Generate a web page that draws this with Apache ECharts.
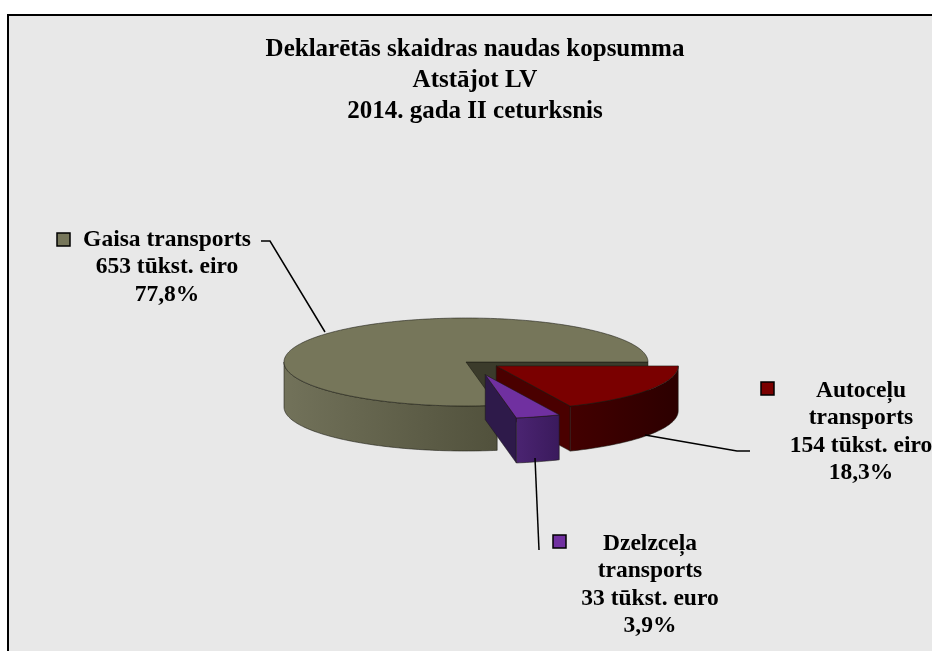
<!DOCTYPE html>
<html lang="lv">
<head>
<meta charset="UTF-8">
<title>Deklarētās skaidras naudas kopsumma</title>
<script src="https://cdn.jsdelivr.net/npm/echarts@6/dist/echarts.min.js"></script>
<style>
	html,body{margin:0;padding:0;background:#fff;overflow:hidden;}
	#box{width:932px;height:651px;}
</style>
</head>
<body>
<div id="box"></div>
<script>
	let categories=['Autoceļu\ntransports','Dzelzceļa\ntransports','Gaisa transports'];
	let values=[154,33,653];
	let percents=[18.3,3.9,77.8];
	let units=['tūkst. eiro','tūkst. euro','tūkst. eiro'];

	// looks
	let topColors=['#7a0000','#7030a0','#76765a'];
	let sideColors=[['#430000','#2c0000'],['#4b2472','#3a1a5c'],['#72725a','#51513c']];
	let faceColors=['#4a0000','#2e1a4a','#3b3b2b'];
	let explode=[36,66,0];
	let pie={cx:466,cy:362,rx:182,ry:44,h:45,tilt:0.2};
	// label layout: text centre, legend key, leader line
	let labelPos=[[861,432],[650,585],[167,267]];
	let keyPos=[[761,382],[553,535],[57,233]];
	let leaders=[
		[[645,435],[737,451],[750,451]],
		[[535,458],[539,550]],
		[[261,241],[270,241],[325,332]]
	];
	let font={fontFamily:'Liberation Serif',fontWeight:'bold'};

	let total=values.reduce((a,b)=>a+b,0);

	function renderSlice(params,api){
		let i=params.dataIndex;
		let before=0;
		for(let k=0;k<i;k++) before+=values[k];
		let a0=before/total*Math.PI*2;
		let a1=(before+api.value(0))/total*Math.PI*2;
		let mid=(a0+a1)/2;
		let cx=pie.cx+explode[i]*Math.cos(mid);
		let cy=pie.cy+explode[i]*Math.sin(mid)*pie.tilt;
		let pt=(t,dz)=>[cx+pie.rx*Math.cos(t),cy+pie.ry*Math.sin(t)+dz];
		let arc=(s,e,dz)=>{
			let n=Math.max(2,Math.ceil((e-s)/0.02));
			let out=[];
			for(let j=0;j<=n;j++) out.push(pt(s+(e-s)*j/n,dz));
			return out;
		};
		let rank=Math.round((Math.sin(mid)+1)*10);
		let edge='rgba(25,25,18,0.8)';
		let children=[];

		// radial cut faces that look towards the viewer
		[[a0,-Math.cos(a0)],[a1,Math.cos(a1)]].forEach(([a,vis])=>{
			if(vis<=0.001) return;
			children.push({
				type:'polygon',z2:rank*10,
				shape:{points:[[cx,cy],pt(a,0),pt(a,pie.h),[cx,cy+pie.h]]},
				style:{fill:faceColors[i],stroke:edge,lineWidth:0.6}
			});
		});
		// outer wall, front half only
		let s=Math.max(a0,0),e=Math.min(a1,Math.PI);
		if(e>s){
			let pts=arc(s,e,0).concat(arc(s,e,pie.h).reverse());
			children.push({
				type:'polygon',z2:rank*10+1,
				shape:{points:pts},
				style:{
					fill:new echarts.graphic.LinearGradient(0,0,1,0,[
						{offset:0,color:sideColors[i][0]},
						{offset:1,color:sideColors[i][1]}
					]),
					stroke:edge,lineWidth:0.7
				}
			});
		}
		// top
		children.push({
			type:'polygon',z2:rank*10+2,
			shape:{points:[[cx,cy]].concat(arc(a0,a1,0))},
			style:{fill:topColors[i],stroke:edge,lineWidth:0.7}
		});

		// label
		let pct=percents[i].toFixed(1).replace('.',',')+'%';
		children.push({
			type:'text',z2:500,
			x:labelPos[i][0],y:labelPos[i][1],
			style:Object.assign({
				text:categories[i]+'\n'+values[i]+' '+units[i]+'\n'+pct,
				fill:'#000',fontSize:23.5,lineHeight:27.5,
				align:'center',verticalAlign:'middle'
			},font)
		});
		children.push({
			type:'rect',z2:500,
			shape:{x:keyPos[i][0],y:keyPos[i][1],width:13,height:13},
			style:{fill:topColors[i],stroke:'#000',lineWidth:1.5}
		});
		children.push({
			type:'polyline',z2:500,
			shape:{points:leaders[i]},
			style:{stroke:'#000',lineWidth:1.5,fill:null}
		});

		return {type:'group',children:children};
	}

	let chart=echarts.init(document.getElementById('box'));
	chart.setOption({
		backgroundColor:'#fff',
		animation:false,
		title:{
			text:'Deklarētās skaidras naudas kopsumma\nAtstājot LV\n2014. gada II ceturksnis',
			left:475,top:34,textAlign:'center',padding:0,
			textStyle:Object.assign({fontSize:25,lineHeight:31,color:'#000'},font)
		},
		graphic:[{
			type:'rect',z:-10,silent:true,
			shape:{x:8,y:15,width:940,height:650},
			style:{fill:'#e8e8e8',stroke:'#000',lineWidth:2}
		}],
		series:[{
			type:'custom',
			coordinateSystem:'none',
			silent:true,
			renderItem:renderSlice,
			data:values.map((v,i)=>({name:categories[i],value:v}))
		}]
	});
</script>
</body>
</html>
